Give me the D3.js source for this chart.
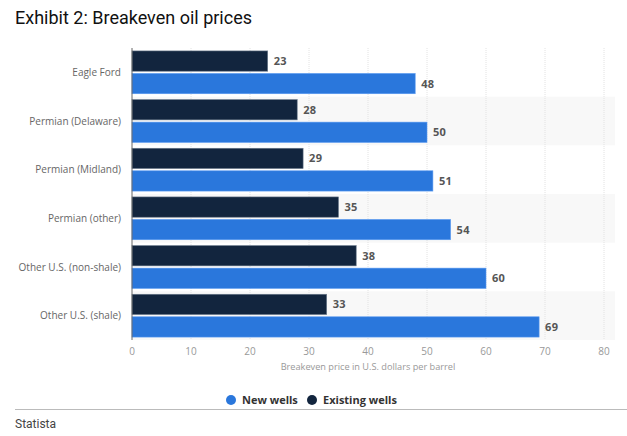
<!DOCTYPE html>
<html><head><meta charset="utf-8">
<script src="https://cdn.jsdelivr.net/npm/d3@7/dist/d3.min.js"></script>
<style>
body{margin:0;background:#fff;}
svg{display:block;font-family:Roboto, "Open Sans", sans-serif;}
</style></head>
<body>
<svg id="c" width="627" height="436"></svg>
<script>
const categories = ["Eagle Ford","Permian (Delaware)","Permian (Midland)","Permian (other)","Other U.S. (non-shale)","Other U.S. (shale)"];
const existingWells = [23,28,29,35,38,33];
const newWells = [48,50,51,54,60,69];
const seriesNames = ["New wells","Existing wells"];
const xTicks = [0,10,20,30,40,50,60,70,80];
const colors = {"New wells":"#2a77dc","Existing wells":"#12253e"};

const svg = d3.select("#c");
const m = {left:132, right:604, top:48, bottom:340};
const x = d3.scaleLinear().domain([0,80]).range([m.left, m.right]);
const y = d3.scaleBand().domain(categories).range([m.top, m.bottom]);
const inner = d3.scaleBand().domain(["Existing wells","New wells"]).range([0, y.bandwidth()]).paddingInner(0.1).paddingOuter(0.13);

// title
svg.append("text").attr("x",15).attr("y",24).attr("font-size",18).attr("fill","#111")
  .attr("font-family","Roboto").text("Exhibit 2: Breakeven oil prices");

// alternating bands
svg.append("g").selectAll("rect").data(categories.filter((d,i)=>i%2===1)).join("rect")
  .attr("x", m.left).attr("width", 615-m.left)
  .attr("y", d=>y(d)).attr("height", y.bandwidth()).attr("fill","#f8f8f8");

// gridlines
svg.append("g").selectAll("line").data(xTicks.slice(1)).join("line")
  .attr("x1",d=>x(d)).attr("x2",d=>x(d)).attr("y1",m.top).attr("y2",m.bottom)
  .attr("stroke","#e2e2e2").attr("stroke-dasharray","1,1");

// bars
const rows = categories.map((c,i)=>({c, existing:existingWells[i], nw:newWells[i]}));
const g = svg.append("g");
rows.forEach(r=>{
  [["Existing wells", r.existing],["New wells", r.nw]].forEach(([s,v])=>{
    const yy = y(r.c)+inner(s);
    g.append("rect").attr("x",x(0)).attr("y",yy).attr("width",x(v)-x(0)).attr("height",inner.bandwidth())
      .attr("fill",colors[s]).attr("stroke", s==="New wells" ? "#5a9af0" : "#6b7a8c").attr("stroke-width",0.6);
    g.append("text").attr("x",x(v)+6).attr("y",yy+inner.bandwidth()/2).attr("dy","0.36em")
      .attr("font-size",11).attr("font-weight","bold").attr("fill","#555").attr("font-family","'Open Sans', sans-serif")
      .attr("letter-spacing","0.3").text(v);
  });
});

// y axis line
svg.append("line").attr("x1",m.left).attr("x2",m.left).attr("y1",m.top).attr("y2",m.bottom)
  .attr("stroke","#666").attr("stroke-width",1);

// category labels
svg.append("g").selectAll("text").data(categories).join("text")
  .attr("x",121).attr("y",d=>y(d)+y.bandwidth()/2).attr("dy","0.36em").attr("text-anchor","end")
  .attr("font-size",10).attr("fill","#666").attr("font-family","'Open Sans', sans-serif").text(d=>d);

// x tick labels
svg.append("g").selectAll("text").data(xTicks).join("text")
  .attr("x",d=>x(d)).attr("y",355).attr("text-anchor","middle")
  .attr("font-size",10).attr("fill","#999").attr("font-family","'Open Sans', sans-serif").text(d=>d);

svg.append("text").attr("x",(m.left+m.right)/2).attr("y",370).attr("text-anchor","middle")
  .attr("font-size",9.2).attr("fill","#999").attr("font-family","'Open Sans', sans-serif")
  .text("Breakeven price in U.S. dollars per barrel");

// legend
const leg = svg.append("g");
const legPos = [{s:"New wells", cx:231},{s:"Existing wells", cx:312}];
legPos.forEach(p=>{
  leg.append("circle").attr("cx",p.cx).attr("cy",400).attr("r",5).attr("fill",colors[p.s]);
  leg.append("text").attr("x",p.cx+11).attr("y",400).attr("dy","0.36em").attr("font-size",11)
    .attr("font-weight","bold").attr("fill","#333").attr("font-family","'Open Sans', sans-serif").text(p.s);
});

svg.append("line").attr("x1",15).attr("x2",627).attr("y1",409.5).attr("y2",409.5).attr("stroke","#bbb");
svg.append("text").attr("x",15).attr("y",428).attr("font-size",12).attr("fill","#444")
  .attr("font-family","Roboto").text("Statista");
</script>
</body></html>
